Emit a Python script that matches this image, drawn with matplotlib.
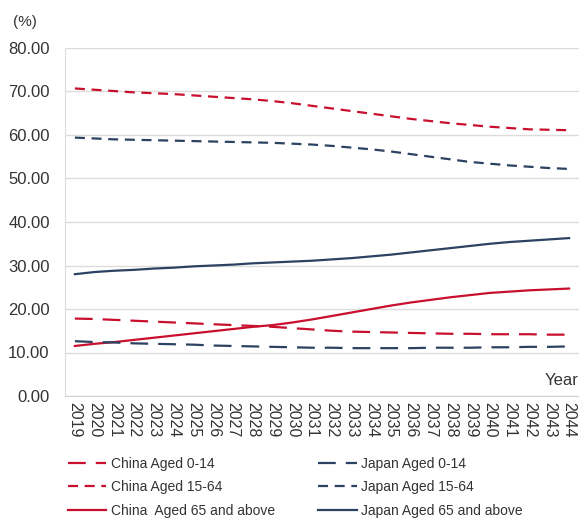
import numpy as np
import matplotlib
matplotlib.use('agg')
import matplotlib.pyplot as plt

plt.rcParams['font.family'] = ['Liberation Sans', 'DejaVu Sans']

years = [str(y) for y in range(2019, 2045)]

china_0_14 = [17.8, 17.7, 17.5, 17.3, 17.1, 16.9, 16.7, 16.5, 16.3, 16.1, 15.9, 15.6, 15.3,
              15.0, 14.8, 14.7, 14.6, 14.5, 14.4, 14.3, 14.3, 14.2, 14.2, 14.2, 14.1, 14.1]
china_15_64 = [70.7, 70.4, 70.1, 69.8, 69.6, 69.4, 69.1, 68.8, 68.5, 68.2, 67.8, 67.3, 66.7,
               66.1, 65.5, 64.9, 64.3, 63.7, 63.2, 62.7, 62.3, 61.9, 61.6, 61.3, 61.2, 61.1]
china_65 = [11.5, 12.0, 12.4, 12.9, 13.4, 13.9, 14.4, 14.9, 15.4, 15.9, 16.3, 16.9, 17.6,
            18.4, 19.2, 20.0, 20.8, 21.5, 22.1, 22.7, 23.2, 23.7, 24.0, 24.3, 24.5, 24.7]
japan_0_14 = [12.6, 12.4, 12.3, 12.1, 12.0, 11.9, 11.8, 11.6, 11.5, 11.4, 11.3, 11.2, 11.1,
              11.1, 11.0, 11.0, 11.0, 11.0, 11.1, 11.1, 11.1, 11.2, 11.2, 11.3, 11.3, 11.4]
japan_15_64 = [59.4, 59.2, 59.0, 58.9, 58.8, 58.7, 58.6, 58.5, 58.4, 58.3, 58.2, 58.0, 57.8,
               57.5, 57.1, 56.7, 56.2, 55.6, 55.0, 54.4, 53.8, 53.4, 53.0, 52.7, 52.4, 52.2]
japan_65 = [28.0, 28.5, 28.8, 29.0, 29.3, 29.5, 29.8, 30.0, 30.2, 30.5, 30.7, 30.9, 31.1,
            31.4, 31.7, 32.1, 32.5, 33.0, 33.5, 34.0, 34.5, 35.0, 35.4, 35.7, 36.0, 36.3]

red = '#c8102e'
blue = '#2b4262'
long_dash = (0, (8, 4.5))
short_dash = (0, (4.5, 3))

series = [
    ('China Aged 0-14', china_0_14, red, long_dash),
    ('China Aged 15-64', china_15_64, red, short_dash),
    ('China  Aged 65 and above', china_65, red, '-'),
    ('Japan Aged 0-14', japan_0_14, blue, long_dash),
    ('Japan Aged 15-64', japan_15_64, blue, short_dash),
    ('Japan Aged 65 and above', japan_65, blue, '-'),
]

fig = plt.figure(figsize=(5.79, 5.18), dpi=100)
ax = fig.add_axes([65/579, 1 - 396/518, 514/579, 348/518])

x = np.arange(len(years))
handles = []
for label, vals, col, ls in series:
    h, = ax.plot(x, vals, color=col, linestyle=ls, linewidth=1.6, label=label)
    handles.append(h)

ax.set_xlim(-0.5, len(years) - 0.5)
ax.set_ylim(0, 80)
ax.set_yticks(np.arange(0, 81, 10))
ax.set_yticklabels(['%.2f' % v for v in np.arange(0, 81, 10)], fontsize=12, color='#333333')
ax.set_xticks(x)
ax.set_xticklabels(years, rotation=-90, fontsize=11.5, color='#333333')
ax.tick_params(axis='both', length=0, pad=4)
ax.tick_params(axis='y', pad=11)

ax.grid(axis='y', color='#dcdcdc', linewidth=1)
ax.set_axisbelow(True)
for s in ['top', 'right']:
    ax.spines[s].set_visible(False)
ax.spines['left'].set_color('#dcdcdc')
ax.spines['bottom'].set_color('#d0d0d0')

ax.text(1.0, 0.045, 'Year', transform=ax.transAxes, ha='right', va='center',
        fontsize=12, color='#333333')
fig.text(13/579, 1 - 22/518, '(%)', ha='left', va='center', fontsize=11, color='#333333')

# two columns, filled column-wise: China left, Japan right
leg = fig.legend(handles, [s[0] for s in series],
                 ncol=2, loc='upper left', bbox_to_anchor=(62/579, 1 - 451/518),
                 frameon=False, fontsize=10, handlelength=2.8, handletextpad=0.3,
                 columnspacing=3.1, labelspacing=0.7, borderaxespad=0)
for t in leg.get_texts():
    t.set_color('#333333')

fig.savefig('out.png', dpi=100)
